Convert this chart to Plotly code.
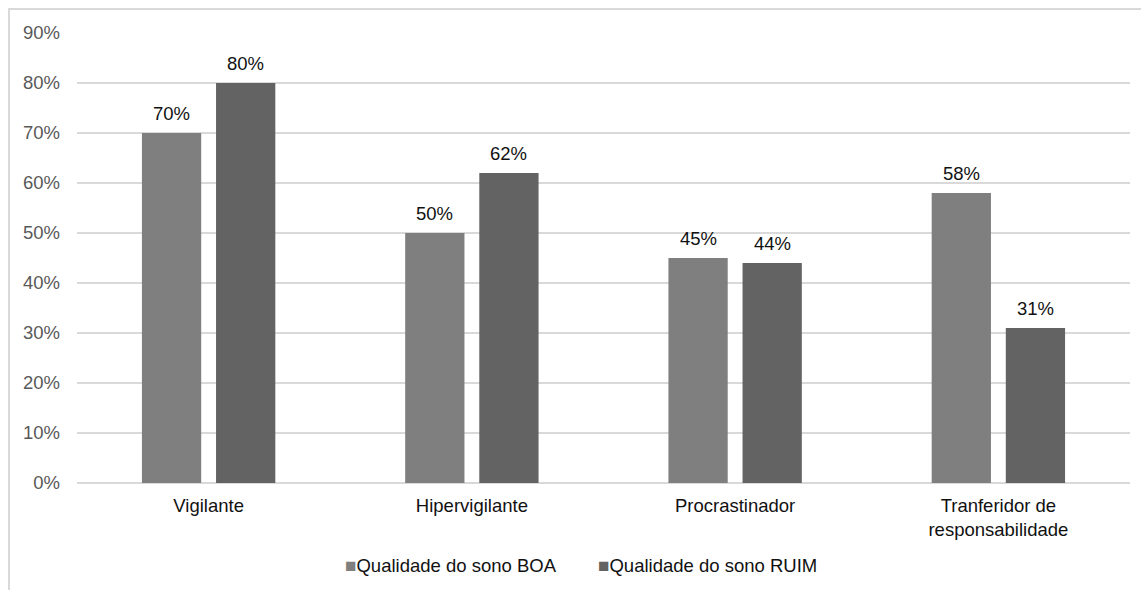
import plotly.graph_objects as go

# Chart data
categories = ["Vigilante", "Hipervigilante", "Procrastinador", "Tranferidor de<br>responsabilidade"]
series_names = ["Qualidade do sono BOA", "Qualidade do sono RUIM"]
boa_values = [70, 50, 45, 58]
ruim_values = [80, 62, 44, 31]
y_ticks = [0, 10, 20, 30, 40, 50, 60, 70, 80, 90]

colors = ["#7f7f7f", "#636363"]
font_family = "Liberation Sans, Arial, sans-serif"
fs = 18.5

fig = go.Figure()
for name, vals, col in zip(series_names, [boa_values, ruim_values], colors):
    fig.add_trace(go.Bar(
        x=categories, y=vals, name=name, showlegend=False,
        marker=dict(color=col, line=dict(width=0)),
    ))

# Value labels above each bar
bar_shift = 37
for vals, shift in zip([boa_values, ruim_values], [-bar_shift, bar_shift]):
    for cat, v in zip(categories, vals):
        fig.add_annotation(
            x=cat, y=v, xref="x", yref="y", text=f"{v}%",
            showarrow=False, xshift=shift, yshift=7, yanchor="bottom",
            font=dict(family=font_family, size=fs, color="#111111"),
        )

# Legend entries: small square swatch followed by series name
legend_x = [0.2526, 0.4929]
for name, col, lx in zip(series_names, colors, legend_x):
    fig.add_annotation(
        x=lx, y=-0.184, xref="paper", yref="paper", xanchor="left", yanchor="middle",
        showarrow=False,
        text=f'<span style="color:{col};font-size:19px">■</span>{name}',
        font=dict(family=font_family, size=fs, color="#111111"),
    )

# Chart-area frame
fig.add_shape(type="rect", xref="paper", yref="paper",
              x0=-0.0646, x1=1.2, y0=-0.4, y1=1.0533,
              line=dict(color="#d9d9d9", width=2), fillcolor="rgba(0,0,0,0)", layer="below")

fig.update_layout(
    width=1141, height=590,
    margin=dict(l=77, r=11, t=33, b=107),
    paper_bgcolor="#ffffff", plot_bgcolor="#ffffff",
    barmode="group", bargap=0.437, bargroupgap=0.2,
    font=dict(family=font_family, size=fs, color="#111111"),
    showlegend=False,
    xaxis=dict(showgrid=False, showline=False, ticks="", ticklabelstandoff=9,
               tickfont=dict(family=font_family, size=fs, color="#111111")),
    yaxis=dict(range=[0, 90], tickvals=y_ticks, ticktext=[f"{t}%" for t in y_ticks],
               showgrid=True, gridcolor="#d9d9d9", gridwidth=1.5,
               zeroline=True, zerolinecolor="#d9d9d9", zerolinewidth=1.5,
               showline=False, ticks="", ticklabelstandoff=16,
               tickfont=dict(family=font_family, size=fs, color="#595959")),
)

fig.write_html("out.html")
